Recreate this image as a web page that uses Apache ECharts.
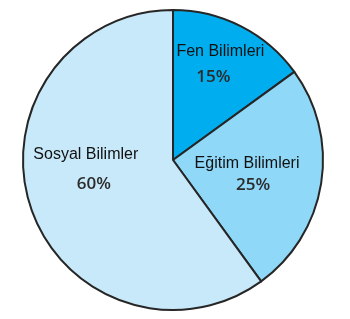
<!DOCTYPE html>
<html><head><meta charset="utf-8">
<script src="https://cdn.jsdelivr.net/npm/echarts@6/dist/echarts.min.js"></script>
<style>html,body{margin:0;padding:0;background:#fff}#c{width:350px;height:319px}</style>
</head><body><div id="c"></div>
<script>
const categories = ['Fen Bilimleri', 'Eğitim Bilimleri', 'Sosyal Bilimler'];
const values = [15, 25, 60];
const colors = ['#00AEEF', '#8FD8F7', '#C8E9FA'];
// label style tweaks per slice: [dx, dy, lineGap, pctShift]
const labelTweaks = [[12, -26, 25, -7], [-3, 2, 21, 6], [-13, -15, 30, 8]];

function richFor(i) {
  const t = labelTweaks[i];
  const s = t[3];
  return {
    n: {fontFamily: 'Liberation Sans', fontSize: 16, color: '#111', lineHeight: t[2], align: 'center'},
    v: {fontFamily: 'Open Sans', fontWeight: 600, fontSize: 17, color: '#2b2b2b', lineHeight: t[2], align: 'center',
        padding: s >= 0 ? [0, 0, 0, 2 * s] : [0, -2 * s, 0, 0]}
  };
}

const chart = echarts.init(document.getElementById('c'), null, {renderer: 'canvas'});
chart.setOption({
  animation: false,
  series: [{
    type: 'pie',
    center: [173, 160],
    radius: [0, 150],
    startAngle: 90,
    clockwise: true,
    silent: true,
    data: categories.map((c, i) => ({
      name: c, value: values[i], itemStyle: {color: colors[i]},
      label: {rich: richFor(i)}
    })),
    itemStyle: {borderColor: '#262626', borderWidth: 2},
    label: {
      show: true,
      position: 'inner',
      formatter: p => '{n|' + p.name + '}\n{v|' + p.value + '%}'
    },
    labelLayout: p => ({dx: labelTweaks[p.dataIndex][0], dy: labelTweaks[p.dataIndex][1]}),
    labelLine: {show: false}
  }]
});
</script></body></html>
